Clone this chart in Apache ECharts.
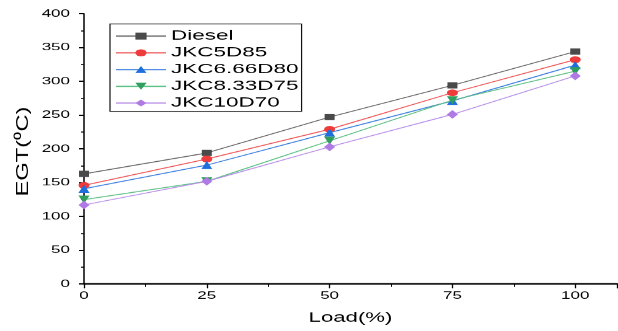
<!DOCTYPE html>
<html><head><meta charset="utf-8">
<script src="https://cdn.jsdelivr.net/npm/echarts@6/dist/echarts.min.js"></script>
<style>
html,body{margin:0;padding:0;background:#fff;overflow:hidden}
#wrap{width:618px;height:331px;overflow:hidden;position:relative}
#c{width:618px;height:534px;transform:scaleY(0.61985);transform-origin:0 0}
</style>
</head><body><div id="wrap"><div id="c"></div></div>
<script>
const loads = [0, 25, 50, 75, 100];
const seriesNames = ['Diesel', 'JKC5D85', 'JKC6.66D80', 'JKC8.33D75', 'JKC10D70'];
const diesel = [163, 194, 247, 294, 344];
const jkc5 = [146, 185, 229, 283, 332];
const jkc666 = [141, 176, 224, 271, 324];
const jkc833 = [125, 152, 212, 272, 315];
const jkc10 = [117, 152, 203, 251, 308];
const yTicks = [0, 50, 100, 150, 200, 250, 300, 350, 400];
const xTicks = [0, 25, 50, 75, 100];

const values = [diesel, jkc5, jkc666, jkc833, jkc10];
const markerColors = ['#4a4a4a', '#ee3b3b', '#1e6fdc', '#2f9e5e', '#b07ae4'];
const lineColors = ['#666666', '#f05858', '#3d80e0', '#5dc084', '#b890ea'];
const symbols = ['rect', 'circle', 'triangle', 'path://M0,0L2,0L1,1.7Z', 'diamond'];
const sizes = [[10, 10], [11, 11], [11, 13], [11, 13], [11, 14]];

const S = 0.61985; // vertical squash of the page container
const chart = echarts.init(document.getElementById('c'), null, {renderer: 'canvas'});
const font = 'Liberation Sans, Arial, sans-serif';
chart.setOption({
  animation: false,
  backgroundColor: '#fff',
  grid: {left: 84, right: 1, top: 22.1, bottom: 75.8},
  legend: {
    left: 110, top: 38.7,
    orient: 'vertical',
    borderColor: '#111', borderWidth: 1.2,
    padding: [8, 3, 2, 5],
    itemWidth: 50, itemHeight: 14, itemGap: 4,
    textStyle: {fontFamily: font, fontSize: 22.5, color: '#000'},
    data: seriesNames
  },
  graphic: [{
    type: 'text', x: 23, y: 151.5 / S, rotation: Math.PI / 2, scaleX: 2.25,
    style: {text: 'EGT(⁰C)', fontFamily: font, fontSize: 17, fill: '#000', align: 'center', verticalAlign: 'middle'}
  }],
  xAxis: {
    type: 'value', min: xTicks[0], max: 108.5, interval: 25,
    name: 'Load(%)', nameLocation: 'middle', nameGap: 44,
    nameTextStyle: {fontFamily: font, fontSize: 22.2, color: '#000'},
    axisLine: {lineStyle: {color: '#000', width: 2.4}},
    axisTick: {show: true, inside: false, length: 7, lineStyle: {color: '#000', width: 1.3}},
    minorTick: {show: true, splitNumber: 2, length: 4.5, lineStyle: {color: '#000', width: 1}},
    axisLabel: {fontFamily: font, fontSize: 17, color: '#000', margin: 11, showMaxLabel: false,
      formatter: v => xTicks.indexOf(v) >= 0 ? String(v) : ''},
    splitLine: {show: false}
  },
  yAxis: {
    type: 'value', min: yTicks[0], max: yTicks[yTicks.length - 1], interval: 50,
    axisLine: {show: true, lineStyle: {color: '#000', width: 1.5}},
    axisTick: {show: true, inside: false, length: 5, lineStyle: {color: '#000', width: 2}},
    minorTick: {show: true, splitNumber: 2, length: 3, lineStyle: {color: '#000', width: 1.6}},
    axisLabel: {fontFamily: font, fontSize: 17, color: '#000', margin: 14},
    splitLine: {show: false}
  },
  series: seriesNames.map((n, i) => ({
    name: n, type: 'line',
    data: loads.map((x, j) => [x, values[i][j]]),
    symbol: symbols[i], symbolSize: sizes[i],
    symbolKeepAspect: false,
    itemStyle: {color: markerColors[i]},
    lineStyle: {color: lineColors[i], width: 1.5},
    z: 2 + i
  }))
});
</script></body></html>
